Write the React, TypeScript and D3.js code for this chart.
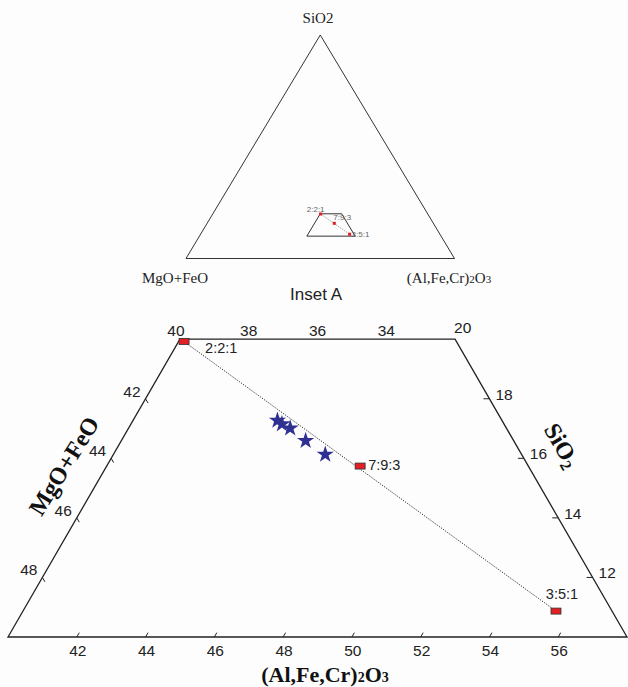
import React from "react";
import * as d3 from "d3";

const W = 628;
const H = 687;

// Tick values on each side of the zoomed ternary region
const TOP_MGO_TICKS = [40, 38, 36, 34];
const LEFT_MGO_TICKS = [42, 44, 46, 48];
const RIGHT_SIO2_TICKS = [18, 16, 14, 12];
const BOTTOM_AL_TICKS = [42, 44, 46, 48, 50, 52, 54, 56];

// Region limits (wt%)
const SIO2_RANGE = [10, 20];
const AL_MIN = 40;
const MGO_MIN = 32;

// Reference compositions (SiO2, (Al,Fe,Cr)2O3; MgO+FeO = remainder)
const REF_LABELS = ["2:2:1", "7:9:3", "3:5:1"];
const REF_SIO2 = [19.92, 15.74, 10.87];
const REF_AL = [40.16, 47.37, 55.5];

// Sample compositions (stars)
const SAMPLE_SIO2 = [17.27, 17.15, 17.01, 16.59, 16.13];
const SAMPLE_AL = [44.2, 44.39, 44.7, 45.36, 46.16];

const SANS = "'Liberation Sans', Arial, sans-serif";
const SERIF = "'Liberation Serif', 'Times New Roman', serif";
const INK = "#222";
const RED = "#e31e24";
const BLUE = "#2e3192";

// label offsets for reference points (layout only)
const MAIN_LABEL_OFF: [number, number, string][] = [
  [21, 11, "start"],
  [8, 4, "start"],
  [6, -12, "middle"],
];
const INSET_LABEL_OFF: [number, number, string][] = [
  [4, -2, "end"],
  [-1, -3, "start"],
  [2, 3, "start"],
];

export default function App() {
  // main zoomed ternary: X = Al + SiO2/2 ; Y = SiO2
  const x = d3.scaleLinear().domain([45, 63]).range([8, 627]);
  const y = d3.scaleLinear().domain(SIO2_RANGE).range([637, 339.2]);
  const P = (s: number, a: number): [number, number] => [x(a + s / 2), y(s)];

  // inset full ternary
  const ix = d3.scaleLinear().domain([0, 100]).range([186, 454.5]);
  const iy = d3.scaleLinear().domain([0, 100]).range([258.5, 35]);
  const IP = (s: number, a: number): [number, number] => [ix(a + s / 2), iy(s)];

  const [s0, s1] = SIO2_RANGE;
  const regionCorners = (proj: typeof P) => [
    proj(s1, AL_MIN),
    proj(s1, 100 - s1 - MGO_MIN),
    proj(s0, 100 - s0 - MGO_MIN),
    proj(s0, AL_MIN),
  ];
  const line = d3.line();
  const mainRegion = line(regionCorners(P))! + "Z";
  const insetRegion = line(regionCorners(IP))! + "Z";
  const insetTri = line([IP(100, 0), IP(0, 0), IP(0, 100)])! + "Z";

  const star = d3.symbol(d3.symbolStar).size(92)()!;

  const refMain = REF_SIO2.map((s, i) => P(s, REF_AL[i]));
  const refInset = REF_SIO2.map((s, i) => IP(s, REF_AL[i]));
  const samples = SAMPLE_SIO2.map((s, i) => P(s, SAMPLE_AL[i]));

  const tl = 5;
  const c60 = 0.5;
  const s60 = Math.sqrt(3) / 2;
  const TF = 15.5;

  return (
    <div style={{ position: "absolute", left: 0, top: 0, width: W, height: H, background: "#fdfdfd" }}>
      <svg width={W} height={H} style={{ display: "block" }}>
        <rect width={W} height={H} fill="#fdfdfd" />

        {/* ---------- Inset A ---------- */}
        <path d={insetTri} fill="none" stroke="#333" strokeWidth={1} />
        <path d={insetRegion} fill="none" stroke="#333" strokeWidth={1} />
        <line
          x1={refInset[0][0]}
          y1={refInset[0][1]}
          x2={refInset[2][0]}
          y2={refInset[2][1]}
          stroke="#777"
          strokeWidth={0.8}
          strokeDasharray="1.2,1.2"
        />
        {refInset.map(([px, py], i) => (
          <g key={"ir" + i}>
            <rect x={px - 1.5} y={py - 1.5} width={3} height={3} fill={RED} />
            <text
              x={px + INSET_LABEL_OFF[i][0]}
              y={py + INSET_LABEL_OFF[i][1]}
              textAnchor={INSET_LABEL_OFF[i][2] as any}
              fontFamily={SANS}
              fontSize={8}
              fill="#666"
            >
              {REF_LABELS[i]}
            </text>
          </g>
        ))}
        <text x={318} y={23} textAnchor="middle" fontFamily={SERIF} fontSize={15} fill={INK}>
          SiO2
        </text>
        <text x={175} y={283} textAnchor="middle" fontFamily={SERIF} fontSize={15} fill={INK}>
          MgO+FeO
        </text>
        <text x={449} y={283} textAnchor="middle" fontFamily={SERIF} fontSize={15} fill={INK}>
          (Al,Fe,Cr)<tspan fontSize={11}>2</tspan>O<tspan fontSize={11}>3</tspan>
        </text>
        <text x={316} y={300} textAnchor="middle" fontFamily={SANS} fontSize={17} fill={INK}>
          Inset A
        </text>

        {/* ---------- Main zoomed diagram ---------- */}
        <path d={mainRegion} fill="none" stroke={INK} strokeWidth={1.3} />

        {/* top edge labels (MgO+FeO along SiO2 = 20) */}
        {TOP_MGO_TICKS.map((m) => {
          const [px, py] = P(s1, 100 - s1 - m);
          return (
            <text key={"t" + m} x={px - (m === 40 ? 4 : 0)} y={py - 3} textAnchor="middle" fontFamily={SANS} fontSize={TF} fill={INK}>
              {m}
            </text>
          );
        })}
        {/* SiO2 = 20 at top-right corner */}
        {(() => {
          const [px, py] = P(s1, 100 - s1 - MGO_MIN);
          return (
            <text x={px - 1} y={py - 6} fontFamily={SANS} fontSize={TF} fill={INK}>
              {s1}
            </text>
          );
        })()}

        {/* left edge ticks: MgO+FeO */}
        {LEFT_MGO_TICKS.map((m) => {
          const s = 100 - m - AL_MIN;
          const [px, py] = P(s, AL_MIN);
          return (
            <g key={"l" + m}>
              <line x1={px} y1={py} x2={px + tl * c60} y2={py + tl * s60} stroke={INK} strokeWidth={1} />
              <text x={px - 5} y={py - 2} textAnchor="end" fontFamily={SANS} fontSize={TF} fill={INK}>
                {m}
              </text>
            </g>
          );
        })}

        {/* right edge ticks: SiO2 */}
        {RIGHT_SIO2_TICKS.map((s) => {
          const [px, py] = P(s, 100 - s - MGO_MIN);
          return (
            <g key={"r" + s}>
              <line x1={px} y1={py} x2={px - tl - 1} y2={py} stroke={INK} strokeWidth={1} />
              <text x={px + 6} y={py + 1} textAnchor="start" fontFamily={SANS} fontSize={TF} fill={INK}>
                {s}
              </text>
            </g>
          );
        })}

        {/* bottom edge ticks: (Al,Fe,Cr)2O3 */}
        {BOTTOM_AL_TICKS.map((a) => {
          const [px, py] = P(s0, a);
          return (
            <g key={"b" + a}>
              <line x1={px} y1={py} x2={px + tl * c60} y2={py - tl * s60} stroke={INK} strokeWidth={1} />
              <text x={px + 1} y={py + 19} textAnchor="middle" fontFamily={SANS} fontSize={TF} fill={INK}>
                {a}
              </text>
            </g>
          );
        })}

        {/* tie line */}
        <line
          x1={refMain[0][0]}
          y1={refMain[0][1]}
          x2={refMain[2][0]}
          y2={refMain[2][1]}
          stroke="#222"
          strokeWidth={0.9}
          strokeDasharray="1.3,1.3"
        />

        {/* samples */}
        {samples.map(([px, py], i) => (
          <path key={"s" + i} d={star} transform={`translate(${px},${py})`} fill={BLUE} />
        ))}

        {/* reference points */}
        {refMain.map(([px, py], i) => (
          <g key={"m" + i}>
            <rect x={px - 5} y={py - 3} width={10} height={6} fill={RED} stroke="#333" strokeWidth={0.8} />
            <text
              x={px + MAIN_LABEL_OFF[i][0]}
              y={py + MAIN_LABEL_OFF[i][1]}
              textAnchor={MAIN_LABEL_OFF[i][2] as any}
              fontFamily={SANS}
              fontSize={14.5}
              fill={INK}
            >
              {REF_LABELS[i]}
            </text>
          </g>
        ))}

        {/* axis titles */}
        <text
          transform="translate(64,466) rotate(-58)"
          y={8}
          textAnchor="middle"
          fontFamily={SERIF}
          fontWeight="bold"
          fontSize={24}
          fill="#111"
        >
          MgO+FeO
        </text>
        <text
          transform="translate(561,446) rotate(60)"
          y={7}
          textAnchor="middle"
          fontFamily={SERIF}
          fontWeight="bold"
          fontSize={24}
          fill="#111"
        >
          SiO<tspan fontSize={16} dy={4}>2</tspan>
        </text>
        <text x={325} y={682} textAnchor="middle" fontFamily={SERIF} fontWeight="bold" fontSize={22} fill="#111">
          (Al,Fe,Cr)<tspan fontSize={14}>2</tspan>O<tspan fontSize={14}>3</tspan>
        </text>
      </svg>
    </div>
  );
}
